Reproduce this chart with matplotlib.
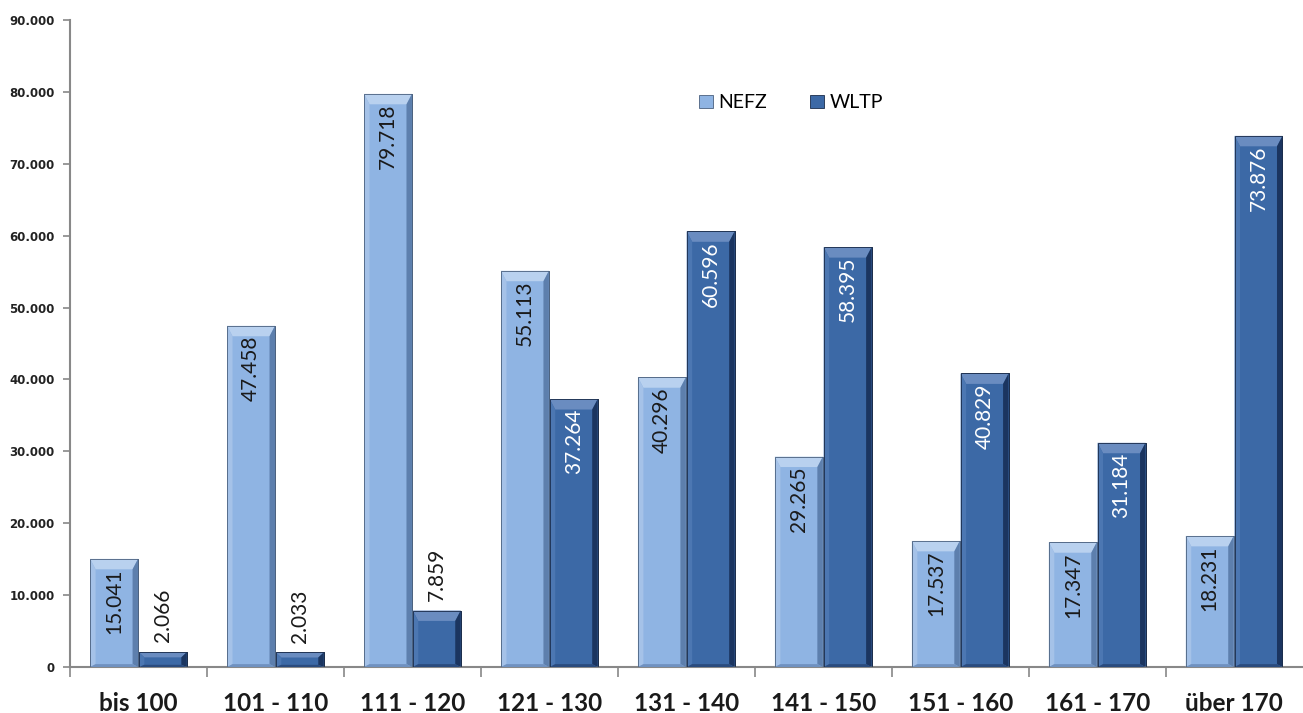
import matplotlib.pyplot as plt
from matplotlib.patches import Polygon
from matplotlib.ticker import FuncFormatter, FixedLocator
import numpy as np

categories = ["bis 100", "101 - 110", "111 - 120", "121 - 130", "131 - 140",
              "141 - 150", "151 - 160", "161 - 170", "über 170"]
nefz = [15041, 47458, 79718, 55113, 40296, 29265, 17537, 17347, 18231]
wltp = [2066, 2033, 7859, 37264, 60596, 58395, 40829, 31184, 73876]

plt.rcParams['font.family'] = ['Lato', 'DejaVu Sans']

fig = plt.figure(figsize=(13.03, 7.13), dpi=100)
ax = fig.add_axes([0.0537, 0.0645, 0.946, 0.9075])

x = np.arange(len(categories))
w = 0.35
off = 0.178

styles = {
    "NEFZ": dict(face="#8fb4e3", top="#b9d1ef", side="#5d7fad", left="#a5c2e8",
                 bottom="#6f91c0", edge="#4a607e", txt="#1a1a1a"),
    "WLTP": dict(face="#3c69a6", top="#6a8cc0", side="#1b3560", left="#4c77b2",
                 bottom="#2a4b7e", edge="#1a2c4a", txt="white"),
}


def bevel_bars(xs, vals, st, label):
    bars = ax.bar(xs, vals, w, color=st["face"], edgecolor=st["edge"], linewidth=0.6,
                  label=label, zorder=2)
    dx = 0.04
    dy = 1450
    for b in bars:
        x0, x1, h = b.get_x(), b.get_x() + b.get_width(), b.get_height()
        d = min(dy, h * 0.35)
        db = min(400, h * 0.15)
        ax.add_patch(Polygon([(x0, h), (x1, h), (x1 - dx, h - d), (x0 + dx, h - d)],
                             closed=True, color=st["top"], zorder=3, lw=0))
        ax.add_patch(Polygon([(x1, h), (x1, 0), (x1 - dx, db), (x1 - dx, h - d)],
                             closed=True, color=st["side"], zorder=3, lw=0))
        ax.add_patch(Polygon([(x0, h), (x0, 0), (x0 + dx, db), (x0 + dx, h - d)],
                             closed=True, color=st["left"], zorder=3, lw=0))
        ax.add_patch(Polygon([(x0, 0), (x1, 0), (x1 - dx, db), (x0 + dx, db)],
                             closed=True, color=st["bottom"], zorder=3, lw=0))
        ax.add_patch(plt.Rectangle((x0, 0), b.get_width(), h, fill=False,
                                   edgecolor=st["edge"], lw=0.6, zorder=4))
    return bars


b1 = bevel_bars(x - off, nefz, styles["NEFZ"], "NEFZ")
b2 = bevel_bars(x + off, wltp, styles["WLTP"], "WLTP")

for bars, vals, st in ((b1, nefz, styles["NEFZ"]), (b2, wltp, styles["WLTP"])):
    for b, v in zip(bars, vals):
        s = f"{v:,}".replace(",", ".")
        cx = b.get_x() + b.get_width() / 2
        if v > 12000:
            ax.annotate(s, (cx, v), xytext=(0, -7), textcoords="offset points",
                        rotation=90, ha="center", va="top", fontsize=15,
                        color=st["txt"], zorder=5)
        else:
            ax.annotate(s, (cx, v), xytext=(0, 7), textcoords="offset points",
                        rotation=90, ha="center", va="bottom", fontsize=15,
                        color="#1a1a1a", zorder=5)

ax.set_xlim(-0.5, len(categories) - 0.5)
ax.set_ylim(0, 90000)
ax.set_yticks(np.arange(0, 90001, 10000))
ax.yaxis.set_major_formatter(FuncFormatter(lambda v, p: f"{int(v):,}".replace(",", ".")))
for lab in ax.get_yticklabels():
    lab.set_fontfamily("DejaVu Sans")
    lab.set_fontweight("bold")
    lab.set_fontsize(8.5)
    lab.set_color("#222222")

ax.set_xticks(x)
ax.set_xticklabels(categories, fontsize=17.5, fontweight="bold", color="#1a1a1a")
ax.tick_params(axis="x", which="major", length=0, pad=18)
ax.xaxis.set_minor_locator(FixedLocator(np.arange(-0.5, len(categories) - 0.5, 1)))
ax.tick_params(axis="x", which="minor", length=7, color="#888888", width=1.2)
ax.tick_params(axis="y", length=5, color="#888888", width=1.2, pad=6)

for sp in ("top", "right"):
    ax.spines[sp].set_visible(False)
for sp in ("left", "bottom"):
    ax.spines[sp].set_color("#888888")
    ax.spines[sp].set_linewidth(1.5)

leg = ax.legend(loc="center", bbox_to_anchor=(0.585, 0.872), ncol=2, frameon=False,
                fontsize=14, handlelength=0.7, handleheight=0.7, columnspacing=2.2,
                handletextpad=0.3)

fig.savefig("out.png", dpi=100)
